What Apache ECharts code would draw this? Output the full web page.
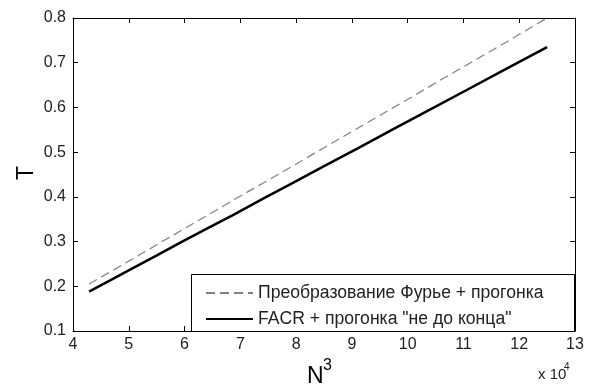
<!DOCTYPE html>
<html><head><meta charset="utf-8">
<script src="https://cdn.jsdelivr.net/npm/echarts@6/dist/echarts.min.js"></script>
<style>html,body{margin:0;padding:0;background:#fff}#c{width:590px;height:387px}</style>
</head><body><div id="c"></div>
<script>
const nCubed = [42875, 46656, 50653, 54872, 59319, 64000, 68921, 74088, 79507, 85184, 91125, 97336, 103823, 110592, 117649, 125000];
const fourierT = [0.205, 0.232, 0.261, 0.292, 0.324, 0.358, 0.394, 0.431, 0.470, 0.511, 0.554, 0.599, 0.646, 0.695, 0.746, 0.800];
const facrT = [0.188, 0.213, 0.240, 0.268, 0.298, 0.329, 0.361, 0.396, 0.432, 0.470, 0.509, 0.551, 0.594, 0.639, 0.686, 0.735];
const seriesNames = ['Преобразование Фурье + прогонка', 'FACR + прогонка "не до конца"'];

const font = '"Liberation Sans", Arial, sans-serif';
const chart = echarts.init(document.getElementById('c'));
const axisCommon = {
  axisLine: {show: true, lineStyle: {color: '#000', width: 1}},
  axisTick: {show: true, inside: true, length: 5, lineStyle: {color: '#000'}},
  splitLine: {show: false}
};
chart.setOption({
  animation: false,
  backgroundColor: '#fff',
  grid: {left: 73, top: 18, right: 15, bottom: 56},
  xAxis: [
    Object.assign({type: 'value', min: 40000, max: 130000, interval: 10000, position: 'bottom',
      axisLabel: {color: '#222', fontSize: 16, fontFamily: font, margin: 6, formatter: v => String(v / 10000)}}, axisCommon),
    Object.assign({type: 'value', min: 40000, max: 130000, interval: 10000, position: 'top',
      axisLabel: {show: false}}, axisCommon)
  ],
  yAxis: [
    Object.assign({type: 'value', min: 0.1, max: 0.8, interval: 0.1, position: 'left',
      axisLabel: {color: '#222', fontSize: 16, fontFamily: font, margin: 7, formatter: v => v.toFixed(1)}}, axisCommon),
    Object.assign({type: 'value', min: 0.1, max: 0.8, interval: 0.1, position: 'right',
      axisLabel: {show: false}}, axisCommon)
  ],
  graphic: [
    {type: 'rect', left: 191, top: 274, z: 5, shape: {width: 383, height: 57},
      style: {fill: '#fff', stroke: '#000', lineWidth: 1}},
    {type: 'text', x: 27, y: 173, rotation: Math.PI / 2, z: 5,
      style: {text: 'T', font: '23px ' + font, fill: '#000', textAlign: 'center', textVerticalAlign: 'middle'}},
    {type: 'text', x: 307, y: 377, z: 5,
      style: {text: 'N', font: '23px ' + font, fill: '#000', textAlign: 'left', textVerticalAlign: 'middle'}},
    {type: 'text', x: 323, y: 366, z: 5,
      style: {text: '3', font: '16px ' + font, fill: '#000', textAlign: 'left', textVerticalAlign: 'middle'}},
    {type: 'text', x: 538, y: 375, z: 5,
      style: {text: 'x 10', font: '15px ' + font, fill: '#222', textAlign: 'left', textVerticalAlign: 'middle'}},
    {type: 'text', x: 564, y: 367, z: 5,
      style: {text: '4', font: '10px ' + font, fill: '#222', textAlign: 'left', textVerticalAlign: 'middle'}}
  ],
  legend: {
    orient: 'vertical', left: 200, top: 279, itemGap: 8, itemWidth: 47, itemHeight: 18, z: 10,
    itemStyle: {opacity: 0},
    textStyle: {fontSize: 17.6, fontFamily: font, color: '#222', padding: [0, 0, 0, 0]},
    data: seriesNames
  },
  series: [
    {name: seriesNames[0], type: 'line', symbol: 'none', xAxisIndex: 0, yAxisIndex: 0,
      data: nCubed.map((x, i) => [x, fourierT[i]]),
      lineStyle: {color: '#808080', width: 1.2, type: [9, 5]}, itemStyle: {color: '#808080'}},
    {name: seriesNames[1], type: 'line', symbol: 'none', xAxisIndex: 0, yAxisIndex: 0,
      data: nCubed.map((x, i) => [x, facrT[i]]),
      lineStyle: {color: '#000', width: 2.5}, itemStyle: {color: '#000'}}
  ]
});
</script></body></html>
